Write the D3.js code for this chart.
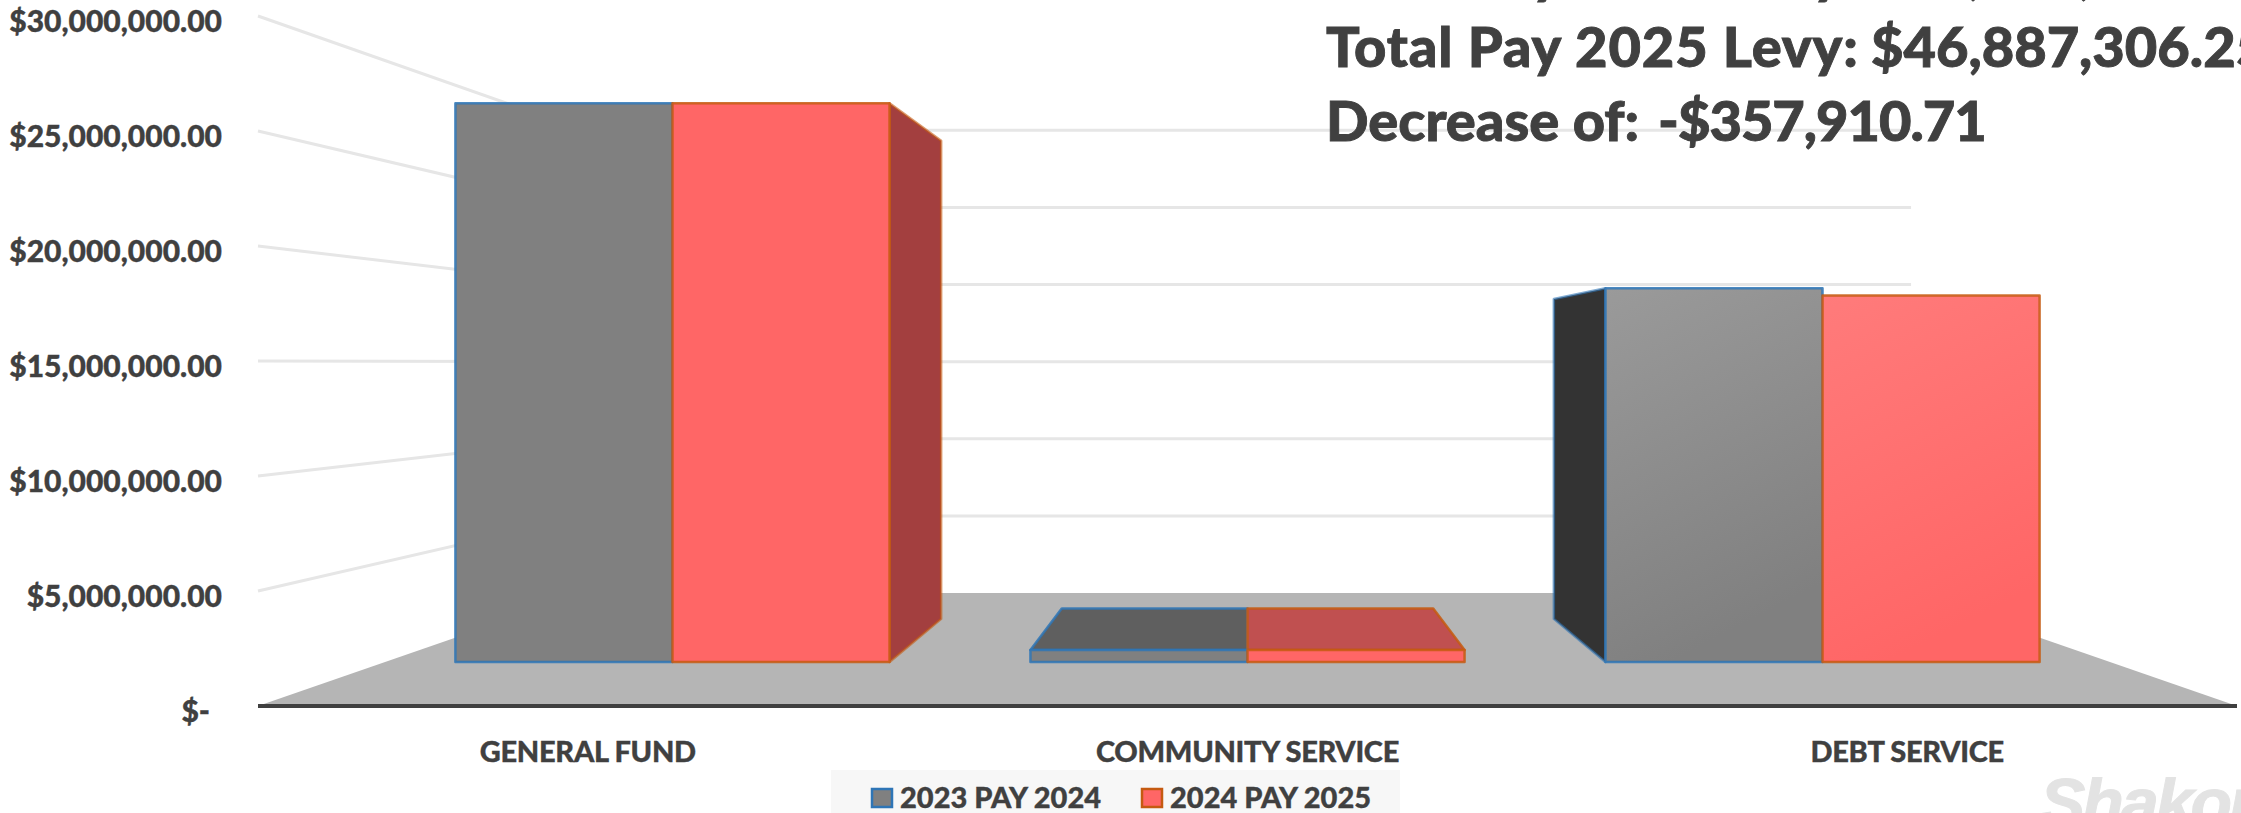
<!DOCTYPE html>
<html>
<head>
<meta charset="utf-8">
<script src="https://cdn.jsdelivr.net/npm/d3@7"></script>
<style>
  html, body { margin: 0; padding: 0; background: #fff; overflow: hidden; }
  svg { display: block; }
  text { font-family: Lato, "Noto Sans", sans-serif; font-weight: 900; fill: #404040; stroke: #404040; stroke-width: 0.35px; }
  .domain { display: none; }
</style>
</head>
<body>
<svg id="chart" width="2241" height="813"></svg>
<script>
// Levy by fund, two pay years
const categories = ["GENERAL FUND", "COMMUNITY SERVICE", "DEBT SERVICE"];
const seriesNames = ["2023 PAY 2024", "2024 PAY 2025"];
const pay2024 = [27870000, 600000, 18640000];
const pay2025 = [27870000, 600000, 18282000];
const yTicks = [0, 5000000, 10000000, 15000000, 20000000, 25000000, 30000000];
const headlineLabels = ["Total Pay 2024 Levy:", "Total Pay 2025 Levy:", "Decrease of:"];
const headlineAmounts = ["$47,245,216.96", "$46,887,306.25", "-$357,910.71"];

const W = 2241, H = 813;
const svg = d3.select("#chart");

// One-point perspective: depth s=1 is the front of the floor, sides converge on the eye point
const eye = { x: 1247.5, y: 363 };
const halfWidth = 989.5;
const depth = { front: 1, barFront: 0.8717, barBack: 0.746, back: 0.6706 };

const yWorld = d3.scaleLinear().domain([0, 30000000]).range([343, -347]);
const x0 = d3.scaleBand().domain(categories).range([-halfWidth, halfWidth])
  .paddingInner(0.245).paddingOuter(0.1225);
const x1 = d3.scaleBand().domain(seriesNames).range([0, x0.bandwidth()]);

const project = (X, v, s) => [eye.x + X * s, eye.y + yWorld(v) * s];
const poly = d3.line().curve(d3.curveLinearClosed);

// Screen-space scales for the two axes, on the front plane
const yFront = d3.scaleLinear().domain(yWorld.domain()).range(yWorld.range().map(d => d + eye.y));
const xFront = d3.scaleBand().domain(categories).range([eye.x - halfWidth, eye.x + halfWidth]);

const defs = svg.append("defs");
function gradient(id, from, to) {
  const g = defs.append("linearGradient").attr("id", id)
    .attr("x1", 0).attr("y1", 0).attr("x2", 0.3).attr("y2", 1);
  g.append("stop").attr("offset", "0%").attr("stop-color", from);
  g.append("stop").attr("offset", "100%").attr("stop-color", to);
}
gradient("sheen-gray", "#9a9a9a", "#808080");
gradient("sheen-red", "#ff7b7b", "#ff6666");
defs.append("clipPath").attr("id", "mark-clip")
  .append("rect").attr("x", 2000).attr("y", 777).attr("width", 241).attr("height", 36);

// Gridlines on the left wall and back wall
const grid = svg.append("g").attr("fill", "none").attr("stroke", "#e6e6e6").attr("stroke-width", 3);
grid.selectAll("path").data(yTicks.filter(d => d > 0)).join("path")
  .attr("d", v => d3.line()([
    project(-halfWidth, v, depth.front),
    project(-halfWidth, v, depth.back),
    project(halfWidth, v, depth.back)
  ]));

// Floor
svg.append("path").attr("fill", "#b5b5b5").attr("d", poly([
  project(-halfWidth, 0, depth.front),
  project(halfWidth, 0, depth.front),
  project(halfWidth, 0, depth.back),
  project(-halfWidth, 0, depth.back)
]));
svg.append("path").attr("fill", "none").attr("stroke", "#404040").attr("stroke-width", 4)
  .attr("d", d3.line()([project(-halfWidth, 0, depth.front), project(halfWidth, 0, depth.front)]));

// Bars: side faces, then tops, then fronts
const look = [
  { values: pay2024, flat: "#808080", sheen: "url(#sheen-gray)", edge: "#2e75b6", side: "#333333", top: "#5f5f5f" },
  { values: pay2025, flat: "#ff6666", sheen: "url(#sheen-red)", edge: "#c55a11", side: "#a33f3f", top: "#c05050" }
];
const bars = [];
categories.forEach((cat, c) => seriesNames.forEach((name, i) => {
  const left = x0(cat) + x1(name);
  bars.push({ cat, c, i, v: look[i].values[c], left, right: left + x1.bandwidth(), st: look[i] });
}));

const faces = svg.append("g").attr("stroke-width", 2.5).attr("stroke-linejoin", "round").attr("stroke-opacity", 0.85);

bars.forEach(b => {
  const f = depth.barFront, k = depth.barBack;
  // Each outer wall only shows when it faces the eye point
  const sideX = (b.c === 0 && b.i === 1) ? b.right : (b.c === 2 && b.i === 0) ? b.left : null;
  if (sideX !== null) {
    faces.append("path").attr("fill", b.st.side).attr("stroke", b.st.edge).attr("stroke-opacity", 0.6)
      .attr("d", poly([project(sideX, 0, f), project(sideX, b.v, f), project(sideX, b.v, k), project(sideX, 0, k)]));
  }
  // Tops only show when the bar ends below eye level
  if (yWorld(b.v) > 0) {
    faces.append("path").attr("fill", b.st.top).attr("stroke", b.st.edge)
      .attr("d", poly([project(b.left, b.v, f), project(b.right, b.v, f), project(b.right, b.v, k), project(b.left, b.v, k)]));
  }
});
bars.forEach(b => {
  const f = depth.barFront;
  faces.append("path")
    .attr("fill", b.c === 2 ? b.st.sheen : b.st.flat)
    .attr("stroke", b.st.edge)
    .attr("d", poly([project(b.left, 0, f), project(b.right, 0, f), project(b.right, b.v, f), project(b.left, b.v, f)]));
});

// Value axis
const moneyFormat = d => d === 0 ? "$-" : d3.format("$,.2f")(d);
const yAxis = svg.append("g").attr("transform", "translate(222,0)")
  .call(d3.axisLeft(yFront).tickValues(yTicks).tickSize(0).tickPadding(0).tickFormat(moneyFormat));
yAxis.selectAll("text")
  .style("font-size", "30px").attr("dy", null)
  .attr("y", 15).attr("x", d => d === 0 ? -12 : 0);
yAxis.attr("font-family", null).attr("font-size", null);

// Category axis
const xAxis = svg.append("g").attr("transform", "translate(0,762)")
  .call(d3.axisBottom(xFront).tickSize(0).tickPadding(0));
xAxis.attr("font-family", null).attr("font-size", null);
xAxis.selectAll("text").style("font-size", "29px").style("letter-spacing", "-0.3px").attr("dy", null).attr("y", 0);

// Legend
const legend = svg.append("g");
legend.append("rect").attr("x", 831).attr("y", 770).attr("width", 569).attr("height", 43).attr("fill", "#f7f7f7");
const legendX = d3.scalePoint().domain(seriesNames).range([871, 1141]);
const entry = legend.selectAll("g").data(seriesNames).join("g")
  .attr("transform", d => `translate(${legendX(d)},0)`);
entry.append("rect").attr("x", 1).attr("y", 789).attr("width", 20).attr("height", 18)
  .attr("fill", (d, i) => look[i].flat).attr("stroke", (d, i) => look[i].edge).attr("stroke-width", 2.5);
entry.append("text").attr("x", 29).attr("y", 808).style("font-size", "29px").text(d => d);

// Headline block, running off the top and right of the canvas
const headline = svg.append("g").selectAll("text").data(headlineLabels).join("text")
  .attr("y", (d, i) => -7 + i * 74)
  .style("font-size", "56px").style("stroke-width", "0.9px");
headline.append("tspan").attr("x", 1326)
  .style("letter-spacing", (d, i) => i < 2 ? "0.9px" : "0")
  .text(d => d);
headline.append("tspan").attr("x", (d, i) => i < 2 ? 1871 : 1658)
  .style("letter-spacing", (d, i) => i < 2 ? "0" : "-1px")
  .text((d, i) => headlineAmounts[i]);

// Faint wordmark in the corner, cut off by the canvas
svg.append("text").attr("x", 2040).attr("y", 826)
  .attr("clip-path", "url(#mark-clip)")
  .style("font-family", "'Liberation Sans'").style("font-style", "italic").style("font-size", "68px")
  .style("letter-spacing", "-3px").style("fill", "#e3e3e3").style("stroke", "#e3e3e3").style("stroke-width", "1px")
  .text("Shakopee");
</script>
</body>
</html>
